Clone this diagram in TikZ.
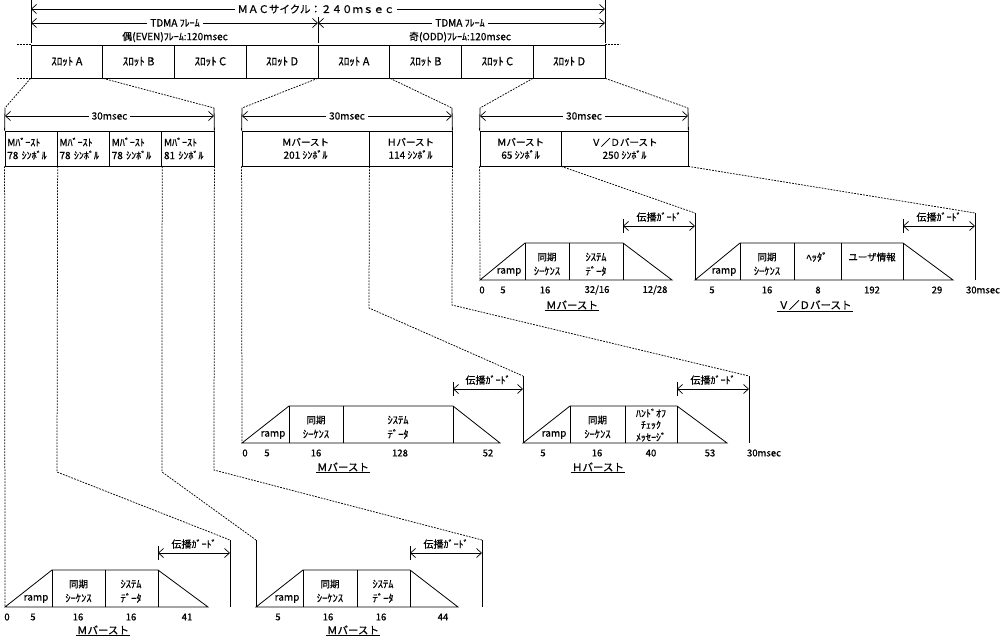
\documentclass[tikz,border=0pt]{standalone}
\usepackage{fontspec}
\setmainfont{Noto Sans CJK JP}[FakeBold=0.6]
\usetikzlibrary{arrows.meta}
\newcommand{\szA}{\fontsize{10}{11}\selectfont}
\newcommand{\szK}{\fontsize{10.5}{11.5}\selectfont}
\newcommand{\szB}{\fontsize{10}{11}\selectfont}
\newcommand{\szC}{\fontsize{9.5}{11}\selectfont}
\newcommand{\szD}{\fontsize{10.5}{12}\selectfont}
\tikzset{
  ln/.style={line width=0.8pt},
  dt/.style={line width=0.75pt, dash pattern=on 1.8pt off 1.2pt},
  dim/.style={line width=0.7pt, {Straight Barb[length=5pt,width=9pt]}-{Straight Barb[length=5pt,width=9pt]}},
  lbl/.style={inner sep=0.5pt},
  lblw/.style={fill=white, inner xsep=3pt, inner ysep=1pt},
  slot/.style={draw, line width=0.8pt, minimum width=71.75pt, minimum height=33pt, inner sep=0pt, font=\fontsize{11}{12}\selectfont},
  cell/.style={draw, line width=0.8pt, minimum height=35pt, inner sep=0pt, align=center},
  lcell/.style={draw, line width=0.8pt, minimum height=35pt, text width=47.75pt, inner xsep=2.25pt, inner ysep=0pt, align=left, font=\szA},
  num/.style={inner sep=0pt, font=\szC},
  ttl/.style={inner sep=1pt, font=\szD},
}
% burst: x0, ramp top, divider, plateau end, ramp end, right edge, baseline
\newcommand{\bstshape}[7]{%
  \draw[ln] (#1,#7) -- (#2,#7-37) -- (#4,#7-37) -- (#5,#7) -- cycle;
  \draw[ln] (#2,#7-37) -- (#2,#7) (#3,#7-37) -- (#3,#7) (#4,#7-37) -- (#4,#7);
  \draw[ln] (#6,#7-67) -- (#6,#7);
  \draw[ln] (#4,#7-61) -- (#4,#7-47);
  \draw[dim] (#4,#7-54) -- (#6,#7-54);
  \node[lbl, font=\szB] at ({(#4+#6)/2},#7-63) {伝播ｶﾞｰﾄﾞ};
  \node[lbl, font=\szA] at (#2-16,#7-8) {ramp};
  \node[lbl, font=\szC] at ({(#2+#3)/2},#7-23) {同期};
  \node[lbl, font=\szK] at ({(#2+#3)/2},#7-9) {ｼｰｹﾝｽ};
}
\begin{document}
\begin{tikzpicture}[x=1pt,y=-1pt]
\useasboundingbox (0,0) rectangle (1000,636);

% ---------- top dimension lines ----------
\draw[ln] (31,0) -- (31,43);
\draw[ln] (605,0) -- (605,43);
\draw[ln] (318,17) -- (318,43);
\coordinate (macL) at (31,9);
\coordinate (macR) at (605,9);
\draw[dim] (macL) -- (macR);
\node[lblw, font=\szD] (mac) at (316,9) {ＭＡＣサイクル：２４０ｍｓｅｃ};
\coordinate (tL) at (31,23);
\coordinate (tM) at (318,23);
\coordinate (tR) at (605,23);
\draw[dim] (tL) -- (tM);
\draw[dim] (tM) -- (tR);
\node[lblw, font=\szA] (tdma1) at (175,23) {TDMA ﾌﾚｰﾑ};
\node[lblw, font=\szA] (tdma2) at (460,23) {TDMA ﾌﾚｰﾑ};
\node[lbl, font=\szB] (even) at (175,37) {偶(EVEN)ﾌﾚｰﾑ:120msec};
\node[lbl, font=\szB] (odd) at (460,37) {奇(ODD)ﾌﾚｰﾑ:120msec};

% ---------- slots ----------
\node[slot] (s1) at (66.875,61.5) {ｽﾛｯﾄ A};
\node[slot] (s2) at (138.625,61.5) {ｽﾛｯﾄ B};
\node[slot] (s3) at (210.375,61.5) {ｽﾛｯﾄ C};
\node[slot] (s4) at (282.125,61.5) {ｽﾛｯﾄ D};
\node[slot] (s5) at (353.875,61.5) {ｽﾛｯﾄ A};
\node[slot] (s6) at (425.625,61.5) {ｽﾛｯﾄ B};
\node[slot] (s7) at (497.375,61.5) {ｽﾛｯﾄ C};
\node[slot] (s8) at (569.125,61.5) {ｽﾛｯﾄ D};
\draw[dt] (s1.north west) -- ++(-14,0);
\draw[dt] (s1.south west) -- ++(-14,0);
\draw[dt] (s8.north east) -- ++(15,0);

% ---------- left group ----------
\node[lcell] (g1) at (31.125,148.5) {Mﾊﾞｰｽﾄ\\[2pt]78 ｼﾝﾎﾞﾙ};
\node[lcell] (g2) at (83.375,148.5) {Mﾊﾞｰｽﾄ\\[2pt]78 ｼﾝﾎﾞﾙ};
\node[lcell] (g3) at (135.625,148.5) {Mﾊﾞｰｽﾄ\\[2pt]78 ｼﾝﾎﾞﾙ};
\node[lcell] (g4) at (187.875,148.5) {Mﾊﾞｰｽﾄ\\[2pt]81 ｼﾝﾎﾞﾙ};
\coordinate (gLa) at (5,108);
\coordinate (gLb) at (214,108);
\draw[dt] (s1.south west) -- (gLa);
\draw[dt] (s1.south east) -- (gLb);
\draw[ln] (gLa) -- (g1.north west);
\draw[ln] (gLb) -- (g4.north east);
\draw[dim] (5,116) -- (214,116);
\node[lblw, font=\szB] (d1) at (109.5,116) {30msec};

% ---------- middle group ----------
\node[cell, minimum width=127pt] (m1) at (305.5,148.5) {{\szC Ｍバースト}\\[1pt]{\szA 201 ｼﾝﾎﾞﾙ}};
\node[cell, minimum width=83pt] (m2) at (410.5,148.5) {{\szC Ｈバースト}\\[1pt]{\szA 114 ｼﾝﾎﾞﾙ}};
\coordinate (gMa) at (242,108);
\coordinate (gMb) at (452,108);
\draw[dt] (s5.south west) -- (gMa);
\draw[dt] (s5.south east) -- (gMb);
\draw[ln] (gMa) -- (m1.north west);
\draw[ln] (gMb) -- (m2.north east);
\draw[dim] (242,116) -- (452,116);
\node[lblw, font=\szB] (d2) at (347,116) {30msec};

% ---------- right group ----------
\node[cell, minimum width=81pt] (r1) at (520.5,148.5) {{\szC Ｍバースト}\\[1pt]{\szA 65 ｼﾝﾎﾞﾙ}};
\node[cell, minimum width=127pt] (r2) at (624.5,148.5) {{\szC Ｖ／Ｄバースト}\\[1pt]{\szA 250 ｼﾝﾎﾞﾙ}};
\coordinate (gRa) at (480,108);
\coordinate (gRb) at (688,108);
\draw[dt] (s8.south west) -- (gRa);
\draw[dt] (s8.south east) -- (gRb);
\draw[ln] (gRa) -- (r1.north west);
\draw[ln] (gRb) -- (r2.north east);
\draw[dim] (480,116) -- (688,116);
\node[lblw, font=\szB] (d3) at (584,116) {30msec};

% ---------- projection lines ----------
\draw[dt] (g1.south west) -- (5,607);
\draw[dt] (g1.south east) -- (57,472) -- (230,540);
\draw[dt] (g3.south east) -- (162,472) -- (256,540);
\draw[dt] (g4.south east) -- (214,470) -- (482,540);
\draw[dt] (m1.south west) -- (242,443);
\draw[dt] (m1.south east) -- (369,308) -- (523,376);
\draw[dt] (m2.south east) -- (452,305) -- (749,376);
\draw[dt] (r1.south west) -- (480,280);
\draw[dt] (r1.south east) -- (695,213);
\draw[dt] (r2.south east) -- (975,213);

% ---------- right bursts ----------
\bstshape{480}{525}{569}{623}{672}{695}{280}
\node[lbl, font=\szK] at (596,257) {ｼｽﾃﾑ};
\node[lbl, font=\szK] at (596,271) {ﾃﾞｰﾀ};
\bstshape{695}{740}{794}{903}{953}{975}{280}
\draw[ln] (841,243) -- (841,280);
\node[lbl, font=\szK] at (817,257) {ﾍｯﾀﾞ};
\node[lbl, font=\szC] at (872,257) {ユーザ情報};
\node[num] at (482,290) {0};
\node[num] at (503,290) {5};
\node[num] at (545,290) {16};
\node[num] at (597,290) {32/16};
\node[num] at (655,290) {12/28};
\node[num] at (712,290) {5};
\node[num] at (767,290) {16};
\node[num] at (818,290) {8};
\node[num] at (872,290) {192};
\node[num] at (937,290) {29};
\node[num] at (983,290) {30msec};
\node[ttl] (tt1) at (572,305) {Ｍバースト};
\draw[line width=0.6pt] (tt1.south west) -- (tt1.south east);
\node[ttl] (tt2) at (815,305) {Ｖ／Ｄバースト};
\draw[line width=0.6pt] (tt2.south west) -- (tt2.south east);

% ---------- middle bursts ----------
\bstshape{242}{289}{343}{453}{500}{523}{443}
\node[lbl, font=\szK] at (398,420) {ｼｽﾃﾑ};
\node[lbl, font=\szK] at (398,434) {ﾃﾞｰﾀ};
\bstshape{523}{570}{625}{677}{727}{749}{443}
\node[lbl, font=\szA] at (651,413) {ﾊﾝﾄﾞｵﾌ};
\node[lbl, font=\szA] at (651,425) {ﾁｪｯｸ};
\node[lbl, font=\szA] at (651,437) {ﾒｯｾｰｼﾞ};
\node[num] at (245,453) {0};
\node[num] at (267,453) {5};
\node[num] at (316,453) {16};
\node[num] at (400,453) {128};
\node[num] at (488,453) {52};
\node[num] at (543,453) {5};
\node[num] at (597,453) {16};
\node[num] at (651,453) {40};
\node[num] at (710,453) {53};
\node[num] at (764,453) {30msec};
\node[ttl] (tt3) at (343,467) {Ｍバースト};
\draw[line width=0.6pt] (tt3.south west) -- (tt3.south east);
\node[ttl] (tt4) at (598,467) {Ｈバースト};
\draw[line width=0.6pt] (tt4.south west) -- (tt4.south east);

% ---------- bottom bursts ----------
\bstshape{5}{52}{105}{158}{208}{230}{607}
\node[lbl, font=\szK] at (131,584) {ｼｽﾃﾑ};
\node[lbl, font=\szK] at (131,598) {ﾃﾞｰﾀ};
\bstshape{256}{303}{357}{410}{458}{482}{607}
\draw[ln] (256,540) -- (256,607);
\node[lbl, font=\szK] at (383,584) {ｼｽﾃﾑ};
\node[lbl, font=\szK] at (383,598) {ﾃﾞｰﾀ};
\node[num] at (7,617) {0};
\node[num] at (33,617) {5};
\node[num] at (78,617) {16};
\node[num] at (131,617) {16};
\node[num] at (187,617) {41};
\node[num] at (278,617) {5};
\node[num] at (328,617) {16};
\node[num] at (381,617) {16};
\node[num] at (443,617) {44};
\node[ttl] (tt5) at (103,630) {Ｍバースト};
\draw[line width=0.6pt] (tt5.south west) -- (tt5.south east);
\node[ttl] (tt6) at (353,630) {Ｍバースト};
\draw[line width=0.6pt] (tt6.south west) -- (tt6.south east);
\end{tikzpicture}
\end{document}
